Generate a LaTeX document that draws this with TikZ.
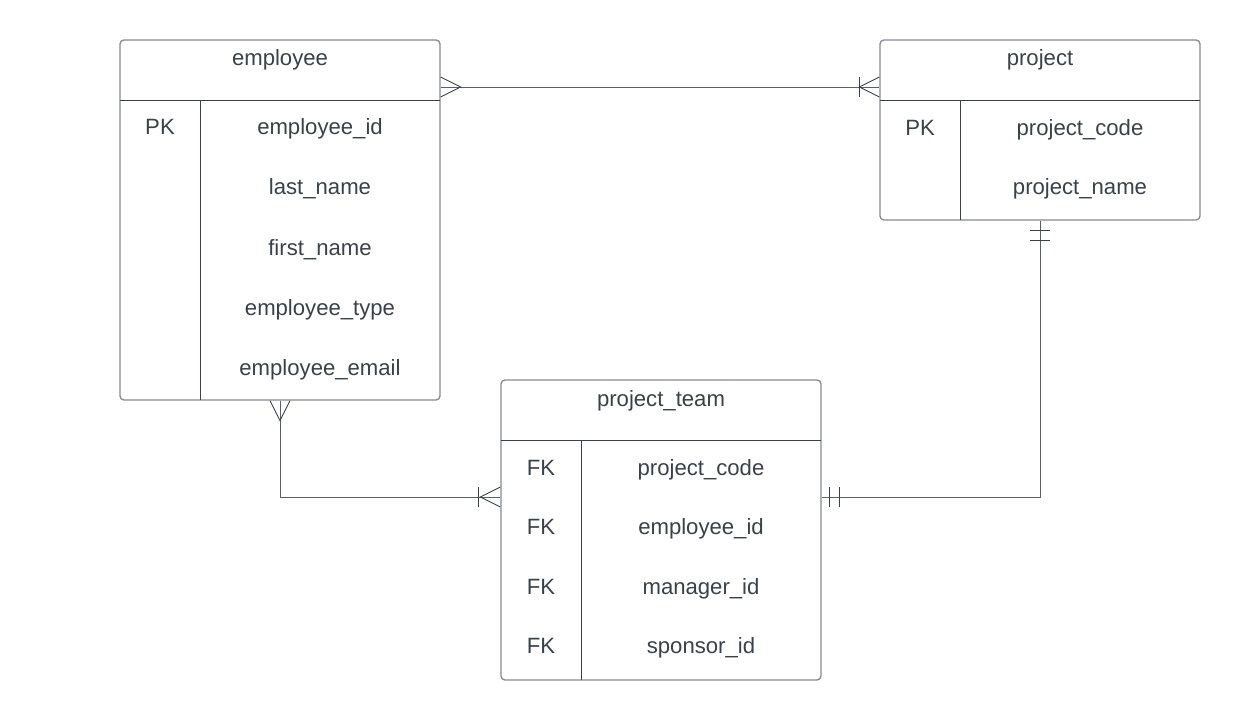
\documentclass[tikz,border=0pt]{standalone}
\usepackage{fontspec}
\setmainfont{Liberation Sans}
\usetikzlibrary{calc}
\definecolor{ink}{HTML}{3A414B}
\definecolor{frame}{HTML}{868A92}
\definecolor{wire}{HTML}{5A5F68}
\tikzset{
  table/.style={draw=frame, line width=1pt, rounded corners=3pt, fill=white, inner sep=0pt},
  inner/.style={draw=ink, line width=0.7pt},
  conn/.style={draw=wire, line width=0.7pt},
  tick/.style={draw=ink, line width=0.7pt},
  txt/.style={text=ink, font=\fontsize{16.6}{19}\selectfont, inner sep=0pt, anchor=base},
}
\begin{document}
\begin{tikzpicture}[x=0.75pt, y=-0.75pt]
\useasboundingbox (0,0) rectangle (1241,720);

% ---------- employee ----------
\node[table, minimum width=240pt, minimum height=270pt] (emp) at (280,220) {};
\draw[inner] (120,100) -- (440,100);
\draw[inner] (200,100) -- (200,400);
\node[txt] (empT) at (280,66) {employee};
\node[txt] (empK1) at (160,135) {PK};
\node[txt] (empF1) at (320,135) {employee\_id};
\node[txt] (empF2) at (320,195) {last\_name};
\node[txt] (empF3) at (320,255) {first\_name};
\node[txt] (empF4) at (320,315) {employee\_type};
\node[txt] (empF5) at (320,375) {employee\_email};

% ---------- project ----------
\node[table, minimum width=240pt, minimum height=135pt] (prj) at (1040,130) {};
\draw[inner] (880,100) -- (1200,100);
\draw[inner] (960,100) -- (960,220);
\node[txt] (prjT) at (1040,66) {project};
\node[txt] (prjK1) at (920,136) {PK};
\node[txt] (prjF1) at (1080,136) {project\_code};
\node[txt] (prjF2) at (1080,195) {project\_name};

% ---------- project_team ----------
\node[table, minimum width=240pt, minimum height=225pt] (team) at (661,530) {};
\draw[inner] (501,440) -- (821,440);
\draw[inner] (581,440) -- (581,680);
\node[txt] (teamT) at (661,406) {project\_team};
\node[txt] (teamK1) at (541,475) {FK};
\node[txt] (teamK2) at (541,534) {FK};
\node[txt] (teamK3) at (541,594) {FK};
\node[txt] (teamK4) at (541,653) {FK};
\node[txt] (teamF1) at (701,475) {project\_code};
\node[txt] (teamF2) at (701,534) {employee\_id};
\node[txt] (teamF3) at (701,594) {manager\_id};
\node[txt] (teamF4) at (701,653) {sponsor\_id};

% ---------- employee -- project (many to one-or-many) ----------
\coordinate (ep1) at (emp.east |- 0,87);
\coordinate (ep2) at (prj.west |- 0,87);
\draw[conn] (ep1) -- (ep2);
\draw[tick] (ep1) ++(0,-10) -- ++(20,10) -- ++(-20,10);
\draw[tick] (ep2) ++(0,-10) -- ++(-20,10) -- ++(20,10);
\draw[tick] (ep2) ++(-20,-10) -- ++(0,20);

% ---------- project -- project_team (one-and-only-one both ends) ----------
\coordinate (pt1) at (prj.south -| 1040,0);
\coordinate (pt2) at (team.east |- 0,497);
\draw[conn] (pt1) |- (pt2);
\draw[tick] (pt1) ++(-10,10) -- ++(20,0);
\draw[tick] (pt1) ++(-10,20) -- ++(20,0);
\draw[tick] (pt2) ++(8,-10) -- ++(0,20);
\draw[tick] (pt2) ++(18,-10) -- ++(0,20);

% ---------- employee -- project_team (many to one-or-many) ----------
\coordinate (et1) at (emp.south -| 280,0);
\coordinate (et2) at (team.west |- 0,497);
\draw[conn] (et1) |- (et2);
\draw[tick] (et1) ++(-10,0) -- ++(10,20) -- ++(10,-20);
\draw[tick] (et2) ++(0,-10) -- ++(-20,10) -- ++(20,10);
\draw[tick] (et2) ++(-22,-10) -- ++(0,20);
\end{tikzpicture}
\end{document}
